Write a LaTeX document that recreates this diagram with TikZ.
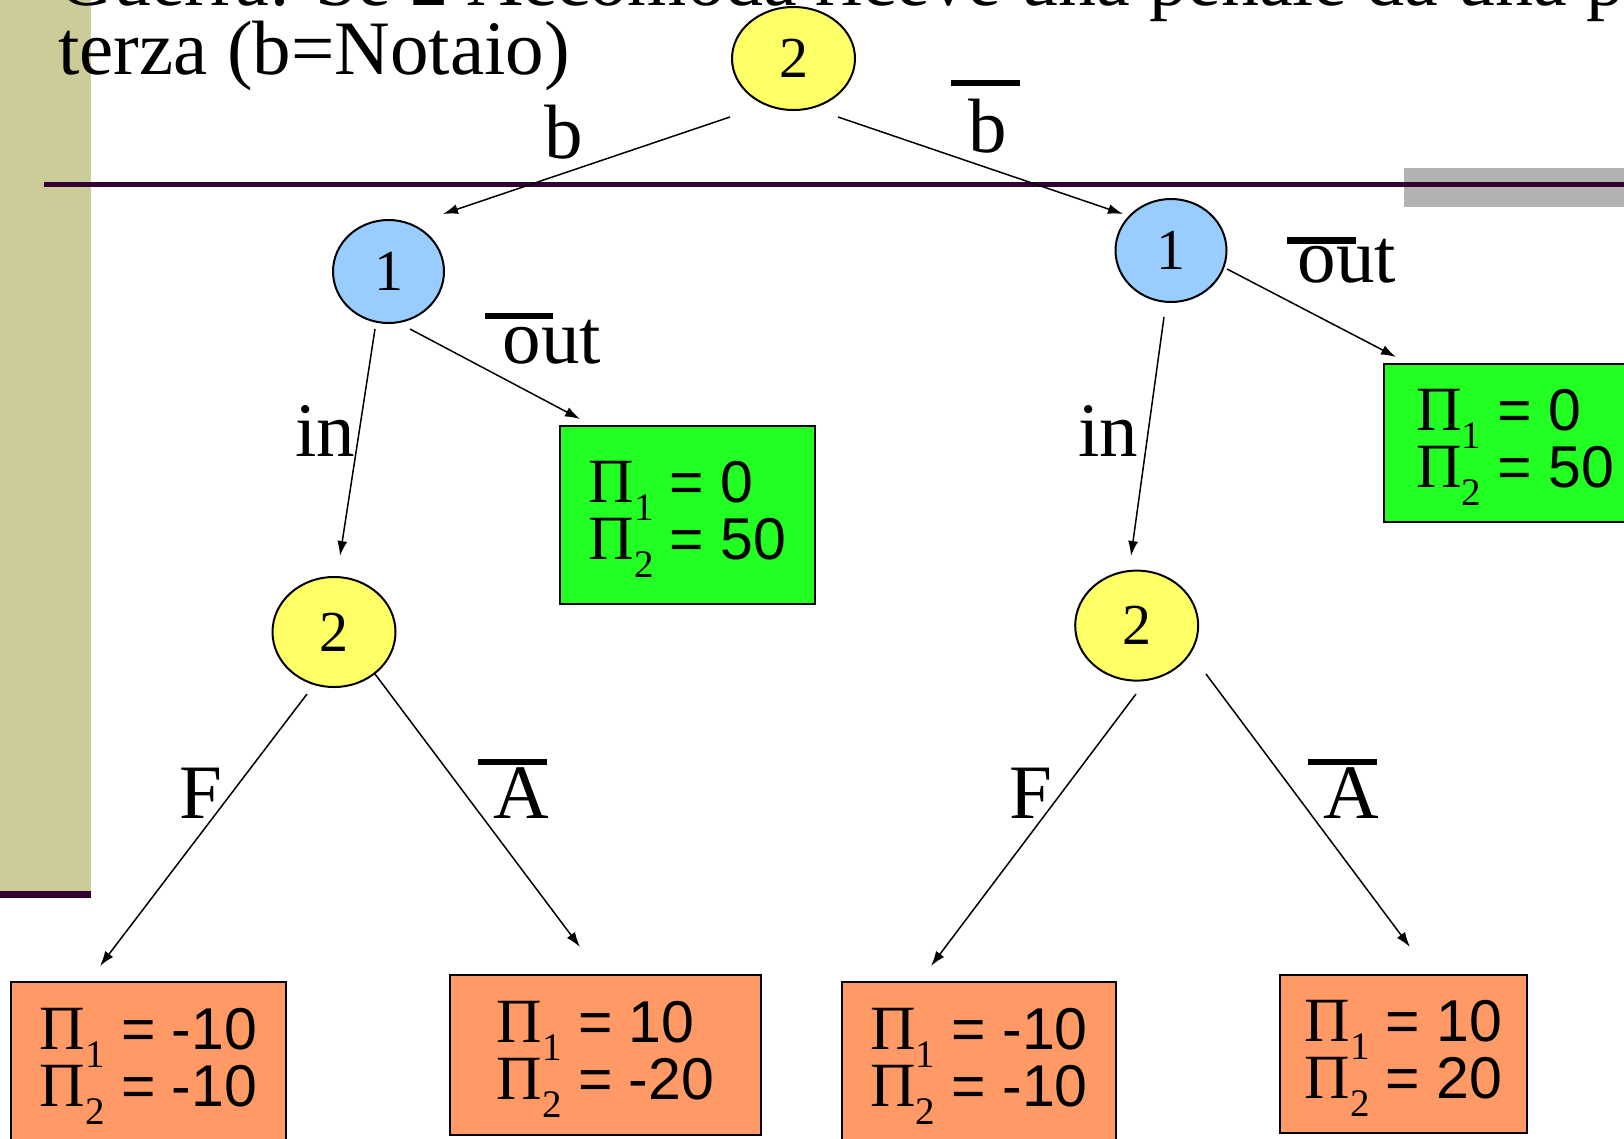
\documentclass[tikz,border=0pt]{standalone}
\usepackage{fontspec}
\setmainfont{Liberation Serif}
\newfontfamily\arialf{Liberation Sans}
\usetikzlibrary{shapes.geometric,arrows.meta,calc}
\definecolor{bandcol}{HTML}{CCCC99}
\definecolor{barcol}{HTML}{330033}
\definecolor{graycol}{HTML}{B2B2B2}
\definecolor{yelcol}{HTML}{FFFF66}
\definecolor{bluecol}{HTML}{99CCFF}
\definecolor{greencol}{HTML}{22FF22}
\definecolor{orangecol}{HTML}{FF9966}
\newcommand\payrow[2]{{\fontsize{63}{63}\selectfont Π}\smash{\raisebox{-18pt}{\fontsize{39}{39}\selectfont #1}}{\arialf\fontsize{59}{57}\selectfont\ = #2}}
\begin{document}
\begin{tikzpicture}[x=1pt,y=-1pt,
  ellnode/.style={ellipse,draw=black,line width=2pt,inner sep=0pt,
    font=\fontsize{58}{58}\selectfont},
  yel/.style={ellnode,fill=yelcol,minimum width=123pt,minimum height=103pt},
  yelb/.style={ellnode,fill=yelcol,minimum width=123pt,minimum height=110pt},
  blu/.style={ellnode,fill=bluecol,minimum width=111pt,minimum height=103pt},
  paybox/.style={rectangle,draw=black,line width=2pt,inner sep=0pt,align=left,
    font=\fontsize{59}{57}\selectfont,
    execute at end node={\rule[-9pt]{0pt}{9pt}}},
  grn/.style={paybox,fill=greencol},
  org/.style={paybox,fill=orangecol,minimum height=160pt},
  arr/.style={line width=1.5pt,-{Latex[length=15pt,width=10pt]}},
  lbl/.style={inner sep=0pt,anchor=base,font=\fontsize{77}{80}\selectfont},
  ovbar/.style={line width=6.5pt},
  ttl/.style={inner sep=0pt,anchor=base west}
]
\useasboundingbox (0,0) rectangle (1624,1138);
\clip (0,0) rectangle (1624,1138);
\fill[white] (0,0) rectangle (1624,1138);
% background decoration
\fill[bandcol] (0,0) rectangle (91,891);
\fill[barcol] (0,891) rectangle (91,898);
\fill[graycol] (1404,168) rectangle (1624,207);
\fill[barcol] (44,182) rectangle (1624,187);
% title
\node[ttl,font=\fontsize{76}{80}\selectfont] (title1) at (58,5) {Guerra: Se 2 Accomoda riceve una penale da una p};
\node[ttl,font=\fontsize{77}{80}\selectfont] (title2) at (58,74) {terza (b=Notaio)};
% decision nodes
\node[yel]  (t2) at (793.5,58.5) {2};
\node[blu]  (l1) at (388.5,271.5) {1};
\node[blu]  (r1) at (1171,250.5) {1};
\node[yelb] (l2) at (334,632) {2};
\node[yelb] (r2) at (1136.7,625.6) {2};
% payoff boxes
\node[grn,minimum width=255pt,minimum height=178pt] (gL) at (687.5,515) {\payrow{1}{0}\\\payrow{2}{50}};
\node[grn,minimum width=262pt,minimum height=158pt] (gR) at (1515,443) {\payrow{1}{0}\\\payrow{2}{50}};
\node[org,minimum width=275pt] (o1) at (148.5,1062) {\payrow{1}{-10}\\\payrow{2}{-10}};
\node[org,minimum width=311pt] (o2) at (605.5,1055) {\payrow{1}{10}\\\payrow{2}{-20}};
\node[org,minimum width=274pt] (o3) at (979,1062) {\payrow{1}{-10}\\\payrow{2}{-10}};
\node[org,minimum width=247pt,minimum height=158pt] (o4) at (1403.5,1054) {\payrow{1}{10}\\\payrow{2}{20}};
% connectors
\draw[arr] ($(t2)+(-63.5,58.5)$) -- ($(l1)+(54.5,-57.5)$);
\draw[arr] ($(t2)+(44.5,58.5)$) -- ($(r1)+(-48,-36.5)$);
\draw[arr] ($(l1)+(-13.5,57.5)$) -- ($(l2)+(6,-76)$);
\draw[arr] ($(l1)+(21.5,57.5)$) -- ($(gL)+(-107.5,-96)$);
\draw[arr] ($(r1)+(-7,66.5)$) -- ($(r2)+(-5.7,-69.6)$);
\draw[arr] ($(r1)+(56,18.5)$) -- ($(gR)+(-119,-86)$);
\draw[arr] ($(l2)+(-27,62)$) -- ($(o1)+(-48.5,-96)$);
\draw[arr] ($(l2)+(41,42)$) -- ($(o2)+(-25.5,-108)$);
\draw[arr] ($(r2)+(-0.7,68.4)$) -- ($(o3)+(-48,-96)$);
\draw[arr] ($(r2)+(69.3,48.4)$) -- ($(o4)+(6.5,-107)$);
% labels
\node[lbl] (lb) at (563.5,158) {b};
\node[lbl] (lbb) at (988,152) {b};
\draw[ovbar] ($(lbb.base)+(-37,-69)$) -- ($(lbb.base)+(32,-69)$);
\node[lbl] (loutL) at (552,363) {out};
\draw[ovbar] ($(loutL.base)+(-67,-47)$) -- ($(loutL.base)+(1,-47)$);
\node[lbl] (loutR) at (1347,282) {out};
\draw[ovbar] ($(loutR.base)+(-60,-41.5)$) -- ($(loutR.base)+(9,-41.5)$);
\node[lbl] (linL) at (325,456) {in};
\node[lbl] (linR) at (1108,456) {in};
\node[lbl] (lFL) at (201,818) {F};
\node[lbl] (lFR) at (1031,818) {F};
\node[lbl] (lAL) at (521.5,818) {A};
\draw[ovbar] ($(lAL.base)+(-43.5,-56)$) -- ($(lAL.base)+(25.5,-56)$);
\node[lbl] (lAR) at (1351,818) {A};
\draw[ovbar] ($(lAR.base)+(-43,-56)$) -- ($(lAR.base)+(26,-56)$);
\end{tikzpicture}
\end{document}
